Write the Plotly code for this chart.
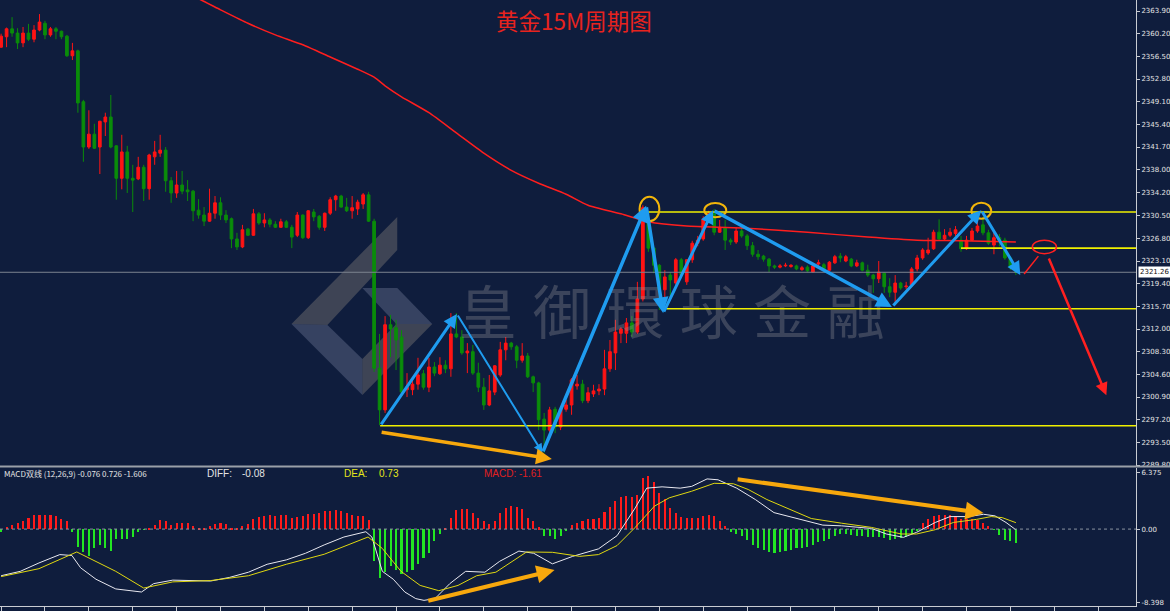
import plotly.graph_objects as go

# ---------------- data ----------------
opens = [2358.0,2359.7,2361.0,2360.3,2358.7,2360.3,2359.3,2360.8,2361.9,2360.0,
         2361.0,2360.6,2359.8,2356.6,2357.4,2349.1,2341.7,2343.8,2341.7,2345.8,
         2346.6,2341.9,2336.6,2340.9,2336.6,2336.5,2338.4,2334.9,2340.1,2340.7,
         2341.2,2336.2,2334.2,2335.5,2334.7,2334.5,2331.4,2330.6,2329.6,2330.9,
         2332.6,2330.6,2330.0,2326.7,2325.4,2328.3,2327.3,2330.8,2329.3,2329.8,
         2329.1,2328.6,2329.5,2328.6,2327.3,2330.6,2326.9,2331.1,2330.4,2328.6,
         2330.9,2333.1,2333.7,2331.9,2331.3,2331.6,2332.4,2333.9,2329.6,2305.6,
         2298.8,2312.7,2312.2,2310.7,2302.1,2302.1,2303.0,2304.7,2302.5,2305.8,
         2304.7,2306.1,2305.5,2311.2,2310.7,2308.1,2308.3,2304.8,2302.5,2299.6,
         2301.7,2304.5,2308.6,2309.7,2309.1,2306.9,2307.6,2304.2,2303.2,2297.3,
         2295.5,2298.9,2296.0,2298.9,2299.6,2302.7,2303.0,2300.3,2301.4,2301.9,
         2302.2,2305.5,2308.1,2311.3,2311.3,2313.0,2311.5,2316.9,2329.9,2325.2,
         2322.4,2318.4,2320.8,2319.5,2323.3,2319.7,2323.3,2326.0,2326.7,2329.9,
         2330.9,2327.8,2328.5,2326.5,2326.2,2328.0,2327.2,2325.6,2324.2,2323.9,
         2323.4,2322.3,2322.1,2322.3,2322.2,2322.3,2321.7,2322.1,2321.3,2322.6,
         2322.5,2321.6,2322.8,2323.9,2323.1,2323.4,2322.3,2322.8,2321.6,2320.8,
         2320.2,2321.1,2318.9,2318.0,2319.5,2318.9,2319.2,2321.8,2323.6,2324.4,
         2325.1,2327.8,2326.7,2327.3,2327.6,2326.5,2325.1,2326.5,2328.0,2329.0,
         2327.7,2325.7,2326.9,2326.5,2323.6,2322.0]
highs = [2360.2,2361.2,2362.9,2361.1,2361.3,2361.8,2361.6,2363.4,2362.3,2361.3,
         2361.3,2360.7,2360.0,2358.7,2357.6,2349.4,2347.7,2345.5,2346.0,2347.3,
         2350.2,2342.0,2343.7,2341.9,2338.8,2340.1,2338.8,2340.6,2342.7,2343.7,
         2341.7,2336.8,2337.8,2337.8,2336.3,2334.7,2333.2,2331.9,2334.9,2333.7,
         2333.5,2331.4,2330.2,2327.7,2329.0,2328.5,2331.6,2331.1,2330.9,2330.1,
         2329.6,2330.0,2329.8,2329.0,2331.1,2330.7,2331.4,2331.6,2330.6,2331.0,
         2333.5,2333.9,2333.9,2333.4,2333.7,2333.1,2334.2,2334.4,2330.0,2311.2,
         2314.1,2314.3,2313.5,2311.8,2304.8,2303.7,2307.3,2305.3,2307.3,2306.6,
         2307.4,2306.9,2314.6,2314.6,2311.8,2309.7,2309.4,2306.5,2304.0,2304.5,
         2306.1,2309.9,2310.7,2309.9,2309.4,2309.7,2308.1,2304.4,2303.4,2298.3,
         2299.3,2299.3,2299.3,2300.4,2304.0,2304.5,2303.7,2302.5,2302.9,2303.0,
         2308.6,2310.2,2313.5,2312.3,2313.8,2314.1,2319.7,2332.2,2330.3,2325.4,
         2322.6,2321.6,2321.3,2323.6,2323.6,2323.4,2326.4,2327.2,2330.4,2331.3,
         2331.6,2329.8,2329.8,2326.8,2328.6,2328.6,2327.5,2326.2,2324.9,2324.1,
         2323.6,2322.5,2322.6,2322.8,2322.6,2322.5,2322.3,2322.4,2322.6,2323.3,
         2322.8,2323.1,2324.1,2324.4,2324.1,2323.6,2323.3,2323.0,2322.5,2321.0,
         2323.1,2321.3,2320.3,2320.8,2319.7,2319.7,2322.1,2324.1,2325.2,2326.9,
         2328.2,2329.9,2328.3,2328.5,2328.8,2327.2,2327.2,2328.5,2329.5,2330.3,
         2328.2,2327.8,2327.5,2326.9,2323.9,2322.3]
lows = [2357.9,2358.0,2359.7,2357.7,2358.0,2359.0,2358.8,2360.6,2359.3,2359.7,
        2359.3,2359.3,2356.4,2355.9,2347.3,2339.3,2341.4,2341.4,2337.3,2343.5,
        2341.5,2333.1,2334.8,2334.2,2331.1,2336.3,2332.9,2333.1,2338.8,2340.1,
        2334.4,2332.6,2333.4,2334.0,2332.9,2329.6,2330.0,2328.8,2329.5,2330.0,
        2329.8,2329.3,2325.2,2324.9,2325.2,2327.2,2327.2,2329.0,2328.6,2328.6,
        2328.5,2328.5,2328.5,2325.2,2327.0,2326.7,2326.7,2329.6,2328.2,2328.0,
        2330.6,2331.3,2331.8,2331.1,2330.0,2330.6,2331.6,2329.5,2305.0,2296.3,
        2298.3,2307.4,2305.3,2301.2,2300.9,2301.2,2302.1,2302.1,2301.7,2304.3,
        2304.5,2304.8,2304.2,2310.5,2307.8,2304.8,2304.5,2301.7,2298.8,2299.4,
        2301.2,2304.2,2306.9,2308.6,2305.6,2306.5,2304.0,2301.7,2295.5,2291.8,
        2295.2,2295.0,2295.5,2298.5,2298.0,2302.1,2299.9,2299.9,2300.9,2301.2,
        2301.2,2305.0,2305.3,2309.7,2309.7,2310.7,2311.2,2316.5,2324.6,2321.1,
        2315.1,2316.7,2316.7,2319.2,2320.3,2319.2,2322.8,2325.5,2326.4,2329.3,
        2327.3,2327.7,2324.9,2325.7,2325.9,2326.9,2324.9,2323.8,2323.3,2323.0,
        2321.3,2321.8,2321.9,2322.1,2322.0,2321.6,2321.5,2321.3,2321.2,2322.3,
        2321.6,2321.5,2322.6,2322.9,2322.9,2322.1,2322.1,2321.4,2320.5,2317.9,
        2319.5,2317.9,2317.2,2315.9,2318.4,2318.5,2318.9,2321.4,2323.3,2324.1,
        2324.9,2326.5,2326.4,2327.0,2327.2,2324.6,2324.9,2326.4,2327.7,2327.3,
        2325.7,2324.2,2325.5,2323.3,2321.6,2320.8]
closes = [2359.8,2361.0,2360.3,2358.7,2360.3,2359.3,2360.8,2362.1,2360.0,2361.0,
          2360.6,2359.7,2356.6,2357.4,2348.9,2341.7,2343.8,2341.5,2345.9,2346.6,
          2341.7,2336.6,2340.9,2336.6,2336.3,2338.4,2334.9,2340.4,2340.9,2341.2,
          2336.2,2334.2,2335.5,2334.5,2334.4,2331.3,2330.6,2329.6,2330.9,2332.6,
          2330.6,2329.8,2326.7,2325.4,2328.2,2327.3,2330.8,2329.3,2329.8,2329.1,
          2328.6,2329.5,2328.6,2327.0,2330.6,2326.9,2331.3,2330.3,2328.6,2330.9,
          2333.1,2333.7,2331.9,2331.3,2331.8,2332.7,2333.9,2329.6,2305.6,2298.8,
          2312.7,2312.0,2310.2,2301.7,2302.5,2303.0,2304.5,2302.5,2305.8,2304.8,
          2306.1,2305.5,2311.2,2310.7,2308.1,2308.4,2304.8,2302.5,2299.6,2301.9,
          2306.0,2308.6,2309.7,2309.1,2306.9,2307.6,2304.2,2303.2,2297.2,2295.5,
          2298.8,2296.0,2298.9,2299.6,2303.7,2303.0,2300.3,2301.6,2301.9,2302.2,
          2305.5,2308.3,2311.5,2312.0,2313.0,2311.5,2316.9,2331.8,2325.2,2322.4,
          2318.4,2320.5,2320.0,2323.3,2320.8,2323.3,2326.0,2326.5,2329.9,2330.9,
          2327.8,2328.6,2326.5,2326.2,2328.0,2327.2,2325.6,2324.2,2323.8,2323.4,
          2322.3,2322.1,2322.3,2322.4,2322.4,2321.8,2322.0,2321.5,2322.3,2322.8,
          2321.8,2322.9,2323.8,2323.6,2323.8,2322.3,2322.8,2321.6,2320.8,2320.2,
          2321.3,2318.9,2318.0,2319.5,2318.7,2319.0,2321.8,2323.6,2324.9,2324.9,
          2327.8,2326.7,2327.3,2327.8,2328.2,2325.1,2326.5,2328.0,2328.8,2327.7,
          2326.0,2326.9,2326.4,2323.6,2322.0,2321.26]
bars = list(range(len(closes)))

# red moving-average line (bar index, price)
ma_idx = [30, 36, 40, 45, 50, 55, 60, 65, 68, 70, 73, 78, 83, 88, 93, 98, 103,
          107, 113, 118, 125, 135, 147, 158, 167, 175, 185]
ma_vals = [2368.1, 2365.9, 2364.1, 2361.9, 2360.0, 2358.4, 2356.4, 2354.4, 2353.1,
           2351.7, 2349.9, 2347.3, 2344.0, 2340.7, 2337.9, 2335.8, 2334.0, 2332.2,
           2330.8, 2329.5, 2328.8, 2328.5, 2327.8, 2327.0, 2326.5, 2326.4, 2326.2]

# MACD histogram, one per bar
macd_hist = [-0.3,
    0.26, 0.44, 0.66, 0.9, 1.28, 1.6, 1.65, 1.65, 1.65, 1.47, 1.1, 0.9,
    -0.37, -2.0, -2.64, -3.1, -2.2, -1.83, -2.2, -2.5, -1.1, -1.1, -1.1, -0.9, -0.3, -0.1,
    0.05,
    0.44, 1.0, 0.9, 0.44, 0.66, 0.66, 0.66, 0.37, 0.15, 0.15, 0.3, 0.55, 0.66, 0.55, 0.15,
    0.15, 0.37, 0.55, 1.17, 1.4, 1.54, 1.6, 1.54, 1.6, 1.65, 1.28, 1.4, 1.54, 1.76, 1.76,
    1.83, 2.0, 2.1, 2.2, 2.0, 1.83, 1.65, 1.54, 1.54, 1.0,
    -3.66, -5.6, -4.9, -4.2, -4.6, -5.1, -4.9, -4.6, -4.0, -3.3, -2.75, -1.4, -0.55,
    0.15, 1.28, 2.2, 2.27, 2.27, 1.83, 1.28, 0.9, 0.55, 0.9, 1.83, 2.4, 2.64, 2.5, 2.27,
    1.28, 0.9, 0.18,
    -0.73, -0.8, -1.1, -0.8, -0.2,
    0.44, 0.7, 0.9, 1.1, 1.2, 1.3,
    1.9, 2.56, 3.2, 3.6, 3.8, 3.6, 3.85, 5.8, 6.0, 5.3, 4.1, 3.4, 2.4, 1.83, 1.4, 1.28,
    1.28, 1.28, 1.47, 1.65, 1.47, 0.9, 0.3,
    -0.3, -0.55, -0.8, -1.28, -1.83, -2.1, -2.4, -2.64, -2.75, -2.64, -2.5, -2.4, -2.2,
    -2.1, -2.0, -1.76, -1.47, -1.4, -1.1, -0.73, -0.55, -0.55, -0.66, -0.73, -0.8, -0.88,
    -0.92, -0.95, -1.0, -1.28, -1.1, -1.0, -0.92, -0.55, -0.18,
    0.66, 1.1, 1.47, 1.65, 1.65, 1.65, 1.47, 1.1, 1.1, 1.17, 1.0, 0.66, 0.37,
    -0.05, -0.7, -1.28, -1.4, -1.61]

diff_idx = [0, 3.5, 6.9, 10.7, 12.9, 14.5, 17.3, 20.9, 25.6, 27.8, 31.3, 34.7, 38.2,
            41.6, 45.1, 48.5, 52, 55.5, 58.9, 62.5, 65.6, 66.5, 67.6, 69.5, 71.5, 73.6,
            75.6, 77.1, 79.1, 81.8, 84.7, 88.2, 90.9, 94.4, 97.1, 100.5, 104.2, 108.9,
            112.3, 115.6, 117.7, 120.5, 123.8, 125.9, 128.7, 130.7, 134.1, 137.5, 140.9,
            143.6, 149.8, 153.2, 158.7, 161.4, 164.5, 166.9, 170.3, 173, 176.4, 179.1,
            181.2, 183.2, 185]
diff_vals = [-5.3, -4.8, -3.85, -2.9, -3.0, -4.4, -5.7, -6.8, -7.15, -6.2, -5.8, -5.85,
             -5.9, -5.5, -4.9, -4.0, -3.5, -2.75, -1.8, -0.9, -0.37, -0.3, -0.9, -4.8,
             -5.7, -7.15, -7.9, -8.1, -7.9, -6.2, -4.8, -4.9, -3.66, -2.5, -2.75, -3.95,
             -3.1, -2.25, -0.75, 2.4, 4.65, 4.8, 4.65, 4.85, 5.7, 5.6, 4.65, 3.36, 1.87,
             1.42, 0.45, 0.37, 0.07, -0.56, -0.94, -0.37, 0.75, 1.42, 1.42, 1.68, 1.5,
             0.75, -0.08]
dea_idx = [0, 6.9, 13.8, 17.3, 20.9, 26, 31.3, 38.2, 45.1, 52, 58.9, 66.9, 69.5, 72.9,
           76.4, 79.8, 83.3, 86.7, 90.2, 95.8, 100.5, 105.5, 108.9, 112.3, 115.6, 119.1,
           121.8, 125.9, 130, 133.5, 136.2, 139.6, 143.6, 147.7, 153.2, 158.7, 164.1,
           166.9, 170.3, 173.6, 177.8, 180.5, 182.5, 185]
dea_vals = [-5.4, -4.5, -2.6, -3.7, -4.8, -6.7, -6.0, -5.85, -5.3, -4.0, -2.86, -0.9,
            -2.2, -4.8, -6.4, -7.0, -6.4, -5.3, -4.9, -2.6, -2.64, -3.1, -2.9, -1.87,
            0.19, 2.6, 3.55, 4.3, 5.2, 5.15, 4.5, 3.36, 2.25, 1.2, 0.67, 0.19, -0.56,
            -0.56, -0.07, 0.75, 1.1, 1.42, 1.3, 0.73]

price_ticks = [2363.90, 2360.20, 2356.50, 2352.80, 2349.10, 2345.40, 2341.70, 2338.00,
               2334.20, 2330.50, 2326.80, 2323.10, 2319.40, 2315.70, 2312.00, 2308.30,
               2304.60, 2300.90, 2297.20, 2293.50, 2289.80]
macd_ticks = [6.375, 0.0, -8.398]
macd_tick_text = ["6.375", "0.00", "-8.398"]
last_price = 2321.26

# analyst's drawings (bar index, price)
level_prices = [2331.1, 2325.2, 2315.3, 2296.2]
level_starts = [118.0, 175.0, 121.3, 69.1]
blue_arrows = [  # (tail_x, tail_y, head_x, head_y, width)
    (69.1, 2296.2, 83.1, 2314.45, 3),
    (83.1, 2314.45, 98.7, 2291.8, 2),
    (98.7, 2291.8, 117.6, 2332.1, 3.5),
    (117.6, 2332.1, 120.7, 2314.6, 3.5),
    (120.7, 2314.6, 129.8, 2331.4, 3),
    (129.8, 2331.4, 162.4, 2315.6, 3.5),
    (162.4, 2315.6, 178.7, 2331.4, 3),
    (178.7, 2331.4, 185.8, 2320.8, 3),
]
gold_circles = [(118.2, 2331.6, 1.8, 2.0), (130.2, 2331.4, 2.0, 1.15), (178.7, 2331.3, 1.8, 1.3)]
watermark = ["皇", "御", "環", "球", "金", "融"]
watermark_x = [88.7, 102.2, 115.6, 129.0, 142.4, 155.8]
watermark_y = 2313.5

BG = "#0f1d3d"
AXC = "#c9ccd2"
TXT = "#e4e4e4"
X_RANGE = [-0.2, 206.9]
PH = 606.0  # plot height in px
def py(p):
    return (PH - p) / PH
def px(p):
    return p / 1138.0

fig = go.Figure()

# watermark text (below the candles)
fig.add_trace(go.Scatter(
    x=watermark_x, y=[watermark_y] * len(watermark), mode="text", text=watermark,
    textfont=dict(family="Noto Sans CJK TC", size=58, color="rgba(150,150,155,0.33)"),
    hoverinfo="skip", showlegend=False, xaxis="x", yaxis="y"))

fig.add_trace(go.Candlestick(
    x=bars, open=opens, high=highs, low=lows, close=closes,
    increasing=dict(line=dict(color="#ff1414", width=1), fillcolor="#ff1414"),
    decreasing=dict(line=dict(color="#0a8c0a", width=1), fillcolor="#0a8c0a"),
    whiskerwidth=0, showlegend=False, xaxis="x", yaxis="y"))

fig.add_trace(go.Scatter(x=ma_idx, y=ma_vals, mode="lines",
                         line=dict(color="#ff1e1e", width=1.5, shape="spline", smoothing=0.6),
                         showlegend=False, xaxis="x", yaxis="y"))

fig.add_trace(go.Bar(x=bars, y=macd_hist, width=0.38,
                     marker=dict(color=["#ff1a1a" if v >= 0 else "#22e622" for v in macd_hist],
                                 line=dict(width=0)),
                     showlegend=False, xaxis="x2", yaxis="y2"))
fig.add_trace(go.Scatter(x=diff_idx, y=diff_vals, mode="lines",
                         line=dict(color="#e8e8f0", width=1), showlegend=False,
                         xaxis="x2", yaxis="y2"))
fig.add_trace(go.Scatter(x=dea_idx, y=dea_vals, mode="lines",
                         line=dict(color="#e0d810", width=1), showlegend=False,
                         xaxis="x2", yaxis="y2"))

shapes = []
# logo (decoration)
def poly(points):
    return "M " + " L ".join(f"{px(a):.4f},{py(b):.4f}" for a, b in points) + " Z"
GRAY = "rgba(128,124,120,0.42)"
BLUE = "rgba(112,122,152,0.40)"
for pts, col in [
    ([(398, 217), (292, 324), (328, 325), (398, 250)], GRAY),
    ([(292, 324), (363, 395), (363, 359), (328, 325)], BLUE),
    ([(363, 288), (398, 288), (433, 324), (397, 324)], BLUE),
    ([(397, 324), (433, 324), (363, 395), (363, 359)], GRAY),
]:
    shapes.append(dict(type="path", xref="paper", yref="paper", layer="below",
                       path=poly(pts), fillcolor=col, line=dict(width=0)))

# separator between panels
shapes.append(dict(type="line", xref="paper", yref="paper", x0=0, x1=1.03,
                   y0=py(466.5), y1=py(466.5), line=dict(color="#9aa0a8", width=2)))
# current price line
shapes.append(dict(type="line", xref="x", yref="y", x0=X_RANGE[0], x1=X_RANGE[1],
                   y0=last_price, y1=last_price, line=dict(color="#7c8490", width=1)))
# MACD zero line
shapes.append(dict(type="line", xref="x2", yref="y2", x0=X_RANGE[0], x1=X_RANGE[1],
                   y0=0, y1=0, line=dict(color="#8b93a0", width=1, dash="dot")))
# yellow levels
for lv, st in zip(level_prices, level_starts):
    shapes.append(dict(type="line", xref="x", yref="y", x0=st, x1=X_RANGE[1],
                       y0=lv, y1=lv, line=dict(color="#f0f000", width=1.6)))
# gold circles
for cx, cy, rx, ry in gold_circles:
    shapes.append(dict(type="circle", xref="x", yref="y", x0=cx - rx, x1=cx + rx,
                       y0=cy - ry, y1=cy + ry, line=dict(color="#f2b50a", width=2)))
# red projection
shapes.append(dict(type="line", xref="x", yref="y", x0=186.5, y0=2320.98, x1=189.1,
                   y1=2323.9, line=dict(color="#ff2020", width=1.5)))
shapes.append(dict(type="circle", xref="x", yref="y", x0=188.0, x1=192.4,
                   y0=2324.3, y1=2326.5, line=dict(color="#ff2020", width=1.5)))

ann = []
for tx, ty, hx, hy, w in blue_arrows:
    ann.append(dict(x=hx, y=hy, ax=tx, ay=ty, xref="x", yref="y", axref="x", ayref="y",
                    showarrow=True, arrowhead=2, arrowsize=0.9, arrowwidth=w,
                    arrowcolor="#1f9cf0", text=""))
ann.append(dict(x=100.4, y=2290.8, ax=69.1, ay=2295.2, xref="x", yref="y", axref="x",
                ayref="y", showarrow=True, arrowhead=2, arrowsize=0.9, arrowwidth=3.5,
                arrowcolor="#f7a80d", text=""))
ann.append(dict(x=100.9, y=-4.66, ax=77.6, ay=-8.18, xref="x2", yref="y2", axref="x2",
                ayref="y2", showarrow=True, arrowhead=2, arrowsize=0.9, arrowwidth=4,
                arrowcolor="#f7a80d", text=""))
ann.append(dict(x=179.1, y=1.82, ax=134.0, ay=5.68, xref="x2", yref="y2", axref="x2",
                ayref="y2", showarrow=True, arrowhead=2, arrowsize=0.9, arrowwidth=4,
                arrowcolor="#f7a80d", text=""))
ann.append(dict(x=201.5, y=2301.2, ax=190.9, ay=2323.75, xref="x", yref="y", axref="x",
                ayref="y", showarrow=True, arrowhead=2, arrowsize=1, arrowwidth=2.5,
                arrowcolor="#ff2020", text=""))
# title
ann.append(dict(x=px(575), y=py(20), xref="paper", yref="paper", showarrow=False,
                xanchor="center", yanchor="middle", text="黄金15M周期图",
                font=dict(family="Noto Sans CJK SC", size=22.5, color="#e8231e")))
# current price tag
ann.append(dict(x=1.0, y=last_price, xref="paper", yref="y", xanchor="left", yanchor="middle",
                xshift=2, showarrow=False, text=f"{last_price:.2f}", bgcolor="#ffffff",
                borderpad=1, font=dict(family="DejaVu Sans", size=7, color="#101010")))
# MACD header
hdr_y = py(473.5)
ann.append(dict(x=px(2), y=hdr_y, xref="paper", yref="paper", xanchor="left",
                yanchor="middle", showarrow=False,
                text="MACD双线 (12,26,9) -0.076 0.726 -1.606",
                font=dict(family="Noto Sans CJK SC", size=8, color=TXT)))
for xp, t, c in [(205, "DIFF:", TXT), (240, "-0.08", TXT), (343, "DEA:", "#e6e619"),
                 (378, "0.73", "#e6e619"), (483, "MACD:", "#e02020"), (518, "-1.61", "#e02020")]:
    ann.append(dict(x=px(xp), y=hdr_y, xref="paper", yref="paper", xanchor="left",
                    yanchor="middle", showarrow=False, text=t,
                    font=dict(family="Liberation Sans", size=10, color=c)))

fig.update_layout(
    width=1170, height=611,
    margin=dict(l=0, r=32, t=0, b=5),
    paper_bgcolor=BG, plot_bgcolor=BG,
    showlegend=False, bargap=0,
    shapes=shapes, annotations=ann,
    xaxis=dict(domain=[0, 1], anchor="y", range=X_RANGE, showgrid=False, zeroline=False,
               showticklabels=False, rangeslider=dict(visible=False), fixedrange=True),
    xaxis2=dict(domain=[0, 1], anchor="y2", range=X_RANGE, showgrid=False, zeroline=False,
                showticklabels=False, showline=True, linecolor=AXC, linewidth=1,
                ticks="outside", ticklen=4, tickcolor=AXC,
                tickvals=list(range(0, 207, 8))),
    yaxis=dict(domain=[py(466), 1], anchor="x", side="right",
               range=[2289.64, 2365.70], tickvals=price_ticks,
               ticktext=[f"{v:.2f}" for v in price_ticks],
               ticks="outside", ticklen=3, tickcolor=AXC, showgrid=False, zeroline=False,
               showline=True, linecolor=AXC, linewidth=1,
               tickfont=dict(family="DejaVu Sans", size=7, color=TXT)),
    yaxis2=dict(domain=[0, py(468)], anchor="x2", side="right",
                range=[-8.74, 6.94], tickvals=macd_ticks, ticktext=macd_tick_text,
                ticks="outside", ticklen=3, tickcolor=AXC, showgrid=False, zeroline=False,
                showline=True, linecolor=AXC, linewidth=1,
                tickfont=dict(family="DejaVu Sans", size=7, color=TXT)),
)

fig.write_html("out.html")
